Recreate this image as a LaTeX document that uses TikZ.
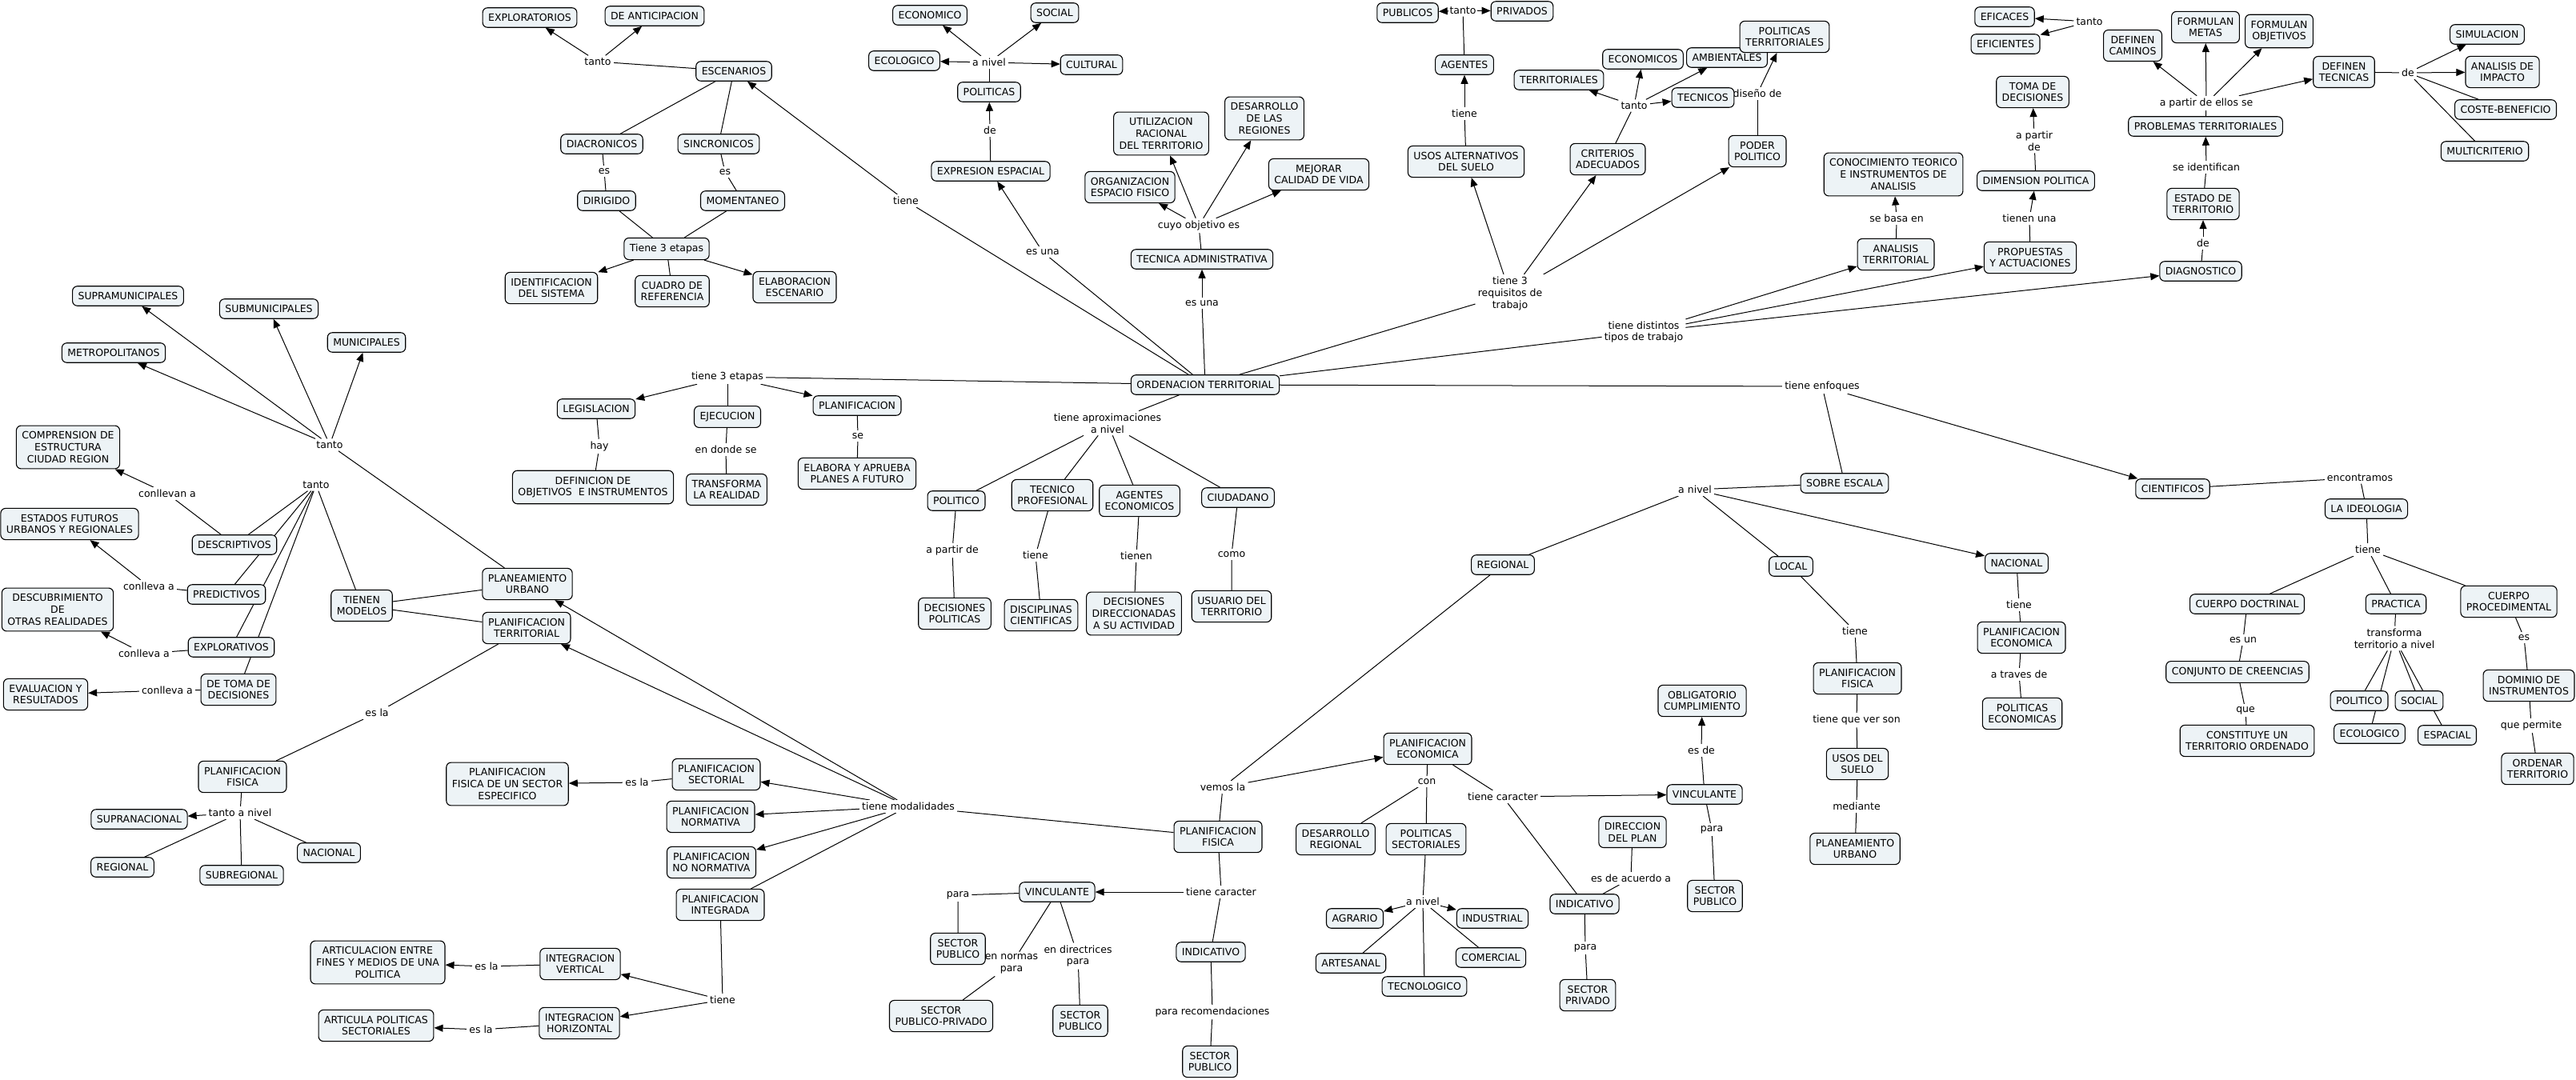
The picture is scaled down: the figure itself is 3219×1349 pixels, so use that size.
\documentclass[tikz,border=0pt]{standalone}
\usepackage{fontspec}
\setmainfont{DejaVu Sans}
\usetikzlibrary{arrows.meta}
\definecolor{boxfill}{HTML}{EDF3F6}
\pgfdeclarelayer{bg}
\pgfsetlayers{bg,main}
\tikzset{
  box/.style={draw=black, line width=1.1pt, rounded corners=6pt, fill=boxfill,
    inner xsep=7pt, inner ysep=7.5pt, align=center, font=\fontsize{12.5}{14.7}\selectfont},
  lab/.style={fill=white, inner xsep=3pt, inner ysep=3pt, align=center, font=\fontsize{12.5}{14.7}\selectfont},
  ln/.style={line width=1pt, draw=black},
  arr/.style={ln, -{Triangle[length=11pt,width=9pt]}},
}
\newcommand\mkbox[3]{\node[box] (#1) at (#2) {#3};}
\newcommand\mklab[3]{\node[lab] (#1) at (#2) {#3};}
\begin{document}
\begin{tikzpicture}[x=1pt,y=-1pt]
\useasboundingbox (0,0) rectangle (3219,1349);
\begin{pgfonlayer}{bg}
\fill[white] (0,0) rectangle (3219,1349);
\end{pgfonlayer}
% ---------- linking phrases ----------
\mklab{lTantoA}{747,77}{tanto}
\mklab{lEsA}{755,214}{es}
\mklab{lEsB}{906,215}{es}
\mklab{lTieneA}{1132,251}{tiene}
\mklab{lAnivelA}{1236,78}{a nivel}
\mklab{lDeA}{1237,163}{de}
\mklab{lEsUnaA}{1303,315}{es una}
\mklab{lCuyo}{1498,282}{cuyo objetivo es}
\mklab{lEsUnaB}{1502,379}{es una}
\node[lab,inner xsep=1pt] (lTantoB) at (1828,13) {tanto};
\mklab{lTieneB}{1830,142}{tiene}
\mklab{lTantoC}{2042,132}{tanto}
\node[lab,inner xsep=1pt] (lDiseno) at (2196,117) {diseño de};
\mklab{lReq}{1887,367}{tiene 3\\requisitos de\\trabajo}
\mklab{lDist}{2054,415}{tiene distintos\\tipos de trabajo}
\mklab{lBasa}{2370,273}{se basa en}
\mklab{lTantoD}{2611,27}{tanto}
\mklab{lApartir}{2542,176}{a partir\\de}
\mklab{lTienenUna}{2536,273}{tienen una}
\mklab{lAPartirEllos}{2757,129}{a partir de ellos se}
\mklab{lSeIdent}{2757,209}{se identifican}
\mklab{lDeB}{2753,304}{de}
\mklab{lDeC}{3009,91}{de}
\mklab{lTantoE}{412,556}{tanto}
\mklab{lTantoF}{395,606}{tanto}
\mklab{lConllevan}{209,617}{conllevan a}
\mklab{lConlA}{186,733}{conlleva a}
\mklab{lConlB}{180,817}{conlleva a}
\mklab{lConlC}{209,863}{conlleva a}
\mklab{lEsLaA}{471,891}{es la}
\mklab{lHay}{749,558}{hay}
\mklab{lTtres}{909,471}{tiene 3 etapas}
\mklab{lDonde}{907,562}{en donde se}
\mklab{lSe}{1072,545}{se}
\mklab{lAprox}{1384,529}{tiene aproximaciones\\a nivel}
\mklab{lApd}{1190,688}{a partir de}
\mklab{lTieneC}{1294,694}{tiene}
\mklab{lTienen}{1420,695}{tienen}
\mklab{lComo}{1539,693}{como}
\mklab{lEnfoq}{2277,483}{tiene enfoques}
\mklab{lAnivelB}{2118,612}{a nivel}
\mklab{lTieneD}{2318,789}{tiene}
\mklab{lEncon}{2949,597}{encontramos}
\mklab{lTieneE}{2959,687}{tiene}
\mklab{lTieneF}{2523,756}{tiene}
\mklab{lTraves}{2523,843}{a traves de}
\mklab{lEsUn}{2803,800}{es un}
\mklab{lTransf}{2992,798}{transforma\\territorio a nivel}
\mklab{lEsC}{3154,797}{es}
\mklab{lQue}{2806,888}{que}
\mklab{lPermite}{3163,907}{que permite}
\mklab{lTantoNivel}{300,1016}{tanto a nivel}
\mklab{lEsLaB}{796,978}{es la}
\mklab{lModal}{1135,1008}{tiene modalidades}
\mklab{lTieneG}{903,1250}{tiene}
\mklab{lEsLaC}{608,1208}{es la}
\mklab{lEsLaD}{601,1287}{es la}
\mklab{lVemos}{1528,984}{vemos la}
\mklab{lTcarA}{1526,1115}{tiene caracter}
\mklab{lParaA}{1197,1119}{para}
\node[lab,inner xsep=1pt] (lNormas) at (1264,1205) {en normas\\para};
\mklab{lDirec}{1347,1195}{en directrices\\para}
\mklab{lRecom}{1515,1265}{para recomendaciones}
\mklab{lCon}{1783,977}{con}
\mklab{lTcarB}{1878,996}{tiene caracter}
\mklab{lEsDe}{2126,938}{es de}
\mklab{lParaB}{2139,1037}{para}
\mklab{lAcuerdo}{2038,1098}{es de acuerdo a}
\mklab{lParaC}{1981,1185}{para}
\node[lab,inner xsep=1pt] (lAnivelC) at (1778,1127) {a nivel};
\mklab{lTqv}{2320,900}{tiene que ver son}
\mklab{lMediante}{2320,1008}{mediante}
% ---------- concepts ----------
\mkbox{nExpl}{662,22}{EXPLORATORIOS}
\mkbox{nDeAnt}{818,20}{DE ANTICIPACION}
\mkbox{nEsc}{917,89}{ESCENARIOS}
\mkbox{nDiac}{752,180}{DIACRONICOS}
\mkbox{nDir}{758,251}{DIRIGIDO}
\mkbox{nSinc}{898,180}{SINCRONICOS}
\mkbox{nMom}{928,251}{MOMENTANEO}
\mkbox{nTtres}{833,311}{Tiene 3 etapas}
\mkbox{nIdent}{689,360}{IDENTIFICACION\\DEL SISTEMA}
\mkbox{nCuadro}{840,364}{CUADRO DE\\REFERENCIA}
\mkbox{nElab}{993,359}{ELABORACION\\ESCENARIO}
\mkbox{nEcon}{1162,19}{ECONOMICO}
\mkbox{nSoc}{1318,16}{SOCIAL}
\mkbox{nEcol}{1130,76}{ECOLOGICO}
\mkbox{nCult}{1364,81}{CULTURAL}
\mkbox{nPol}{1236,115}{POLITICAS}
\mkbox{nExpr}{1238,214}{EXPRESION ESPACIAL}
\mkbox{nUtil}{1451,167}{UTILIZACION\\RACIONAL\\DEL TERRITORIO}
\mkbox{nDesReg}{1580,148}{DESARROLLO\\DE LAS\\REGIONES}
\mkbox{nOrg}{1412,234}{ORGANIZACION\\ESPACIO FISICO}
\mkbox{nMejor}{1648,218}{MEJORAR\\CALIDAD DE VIDA}
\mkbox{nTecAdm}{1502,324}{TECNICA ADMINISTRATIVA}
\mkbox{nPub}{1759,16}{PUBLICOS}
\mkbox{nPriv}{1902,14}{PRIVADOS}
\mkbox{nAgent}{1830,81}{AGENTES}
\mkbox{nUsos}{1832,202}{USOS ALTERNATIVOS\\DEL SUELO}
\mkbox{nTerr}{1948,100}{TERRITORIALES}
\mkbox{nEcons}{2053,74}{ECONOMICOS}
\mkbox{nAmb}{2158,72}{AMBIENTALES}
\mkbox{nPolTer}{2230,46}{POLITICAS\\TERRITORIALES}
\mkbox{nTecn}{2128,122}{TECNICOS}
\mkbox{nCrit}{2009,199}{CRITERIOS\\ADECUADOS}
\mkbox{nPoder}{2196,189}{PODER\\POLITICO}
\mkbox{nConoc}{2366,218}{CONOCIMIENTO TEORICO\\E INSTRUMENTOS DE\\ANALISIS}
\mkbox{nAnal}{2369,318}{ANALISIS\\TERRITORIAL}
\mkbox{nEfic}{2505,21}{EFICACES}
\mkbox{nEfie}{2506,55}{EFICIENTES}
\mkbox{nToma}{2540,115}{TOMA DE\\DECISIONES}
\mkbox{nDimPol}{2544,226}{DIMENSION POLITICA}
\mkbox{nProp}{2537,322}{PROPUESTAS\\Y ACTUACIONES}
\mkbox{nDefCam}{2665,57}{DEFINEN\\CAMINOS}
\mkbox{nFMetas}{2756,34}{FORMULAN\\METAS}
\mkbox{nFObj}{2848,39}{FORMULAN\\OBJETIVOS}
\mkbox{nProbl}{2756,158}{PROBLEMAS TERRITORIALES}
\mkbox{nEstado}{2753,255}{ESTADO DE\\TERRITORIO}
\mkbox{nDiag}{2750,339}{DIAGNOSTICO}
\mkbox{nDefTec}{2929,90}{DEFINEN\\TECNICAS}
\mkbox{nSimul}{3108,43}{SIMULACION}
\mkbox{nAnaImp}{3127,90}{ANALISIS DE\\IMPACTO}
\mkbox{nCoste}{3131,137}{COSTE-BENEFICIO}
\mkbox{nMulti}{3105,189}{MULTICRITERIO}
\mkbox{nSupra}{160,370}{SUPRAMUNICIPALES}
\mkbox{nSub}{336,386}{SUBMUNICIPALES}
\mkbox{nMuni}{458,428}{MUNICIPALES}
\mkbox{nMetro}{142,441}{METROPOLITANOS}
\mkbox{nCompr}{85,559}{COMPRENSION DE\\ESTRUCTURA\\CIUDAD REGION}
\mkbox{nEstFut}{87,655}{ESTADOS FUTUROS\\URBANOS Y REGIONALES}
\mkbox{nDescr}{293,681}{DESCRIPTIVOS}
\mkbox{nPred}{283,743}{PREDICTIVOS}
\mkbox{nDescub}{72,762}{DESCUBRIMIENTO\\DE\\OTRAS REALIDADES}
\mkbox{nExplv}{289,809}{EXPLORATIVOS}
\mkbox{nDeToma}{298,862}{DE TOMA DE\\DECISIONES}
\mkbox{nEval}{57,868}{EVALUACION Y\\RESULTADOS}
\mkbox{nTMod}{452,757}{TIENEN\\MODELOS}
\mkbox{nPlanUrb}{659,730}{PLANEAMIENTO\\URBANO}
\mkbox{nPlanTer}{658,785}{PLANIFICACION\\TERRITORIAL}
\mkbox{nLegis}{745,511}{LEGISLACION}
\mkbox{nDefObj}{741,609}{DEFINICION DE\\OBJETIVOS~ E INSTRUMENTOS}
\mkbox{nEjec}{909,521}{EJECUCION}
\mkbox{nTransf}{908,612}{TRANSFORMA\\LA REALIDAD}
\mkbox{nPlanif}{1071,507}{PLANIFICACION}
\mkbox{nElabora}{1071,592}{ELABORA Y APRUEBA\\PLANES A FUTURO}
\mkbox{nOT}{1506,481}{ORDENACION TERRITORIAL}
\mkbox{nPolitico}{1195,626}{POLITICO}
\mkbox{nTecProf}{1315,619}{TECNICO\\PROFESIONAL}
\mkbox{nAgEcon}{1424,626}{AGENTES\\ECONOMICOS}
\mkbox{nCiud}{1547,622}{CIUDADANO}
\mkbox{nDecPol}{1193,767}{DECISIONES\\POLITICAS}
\mkbox{nDisc}{1301,769}{DISCIPLINAS\\CIENTIFICAS}
\mkbox{nDecDir}{1417,767}{DECISIONES\\DIRECCIONADAS\\A SU ACTIVIDAD}
\mkbox{nUsuario}{1539,758}{USUARIO DEL\\TERRITORIO}
\mkbox{nSobre}{2305,604}{SOBRE ESCALA}
\mkbox{nRegional}{1878,706}{REGIONAL}
\mkbox{nLocal}{2238,708}{LOCAL}
\mkbox{nPFL}{2321,848}{PLANIFICACION\\FISICA}
\mkbox{nOblig}{2127,876}{OBLIGATORIO\\CUMPLIMIENTO}
\mkbox{nCient}{2715,611}{CIENTIFICOS}
\mkbox{nIdeol}{2957,636}{LA IDEOLOGIA}
\mkbox{nNac}{2520,704}{NACIONAL}
\mkbox{nPER}{2526,797}{PLANIFICACION\\ECONOMICA}
\mkbox{nPolEco}{2527,892}{POLITICAS\\ECONOMICAS}
\mkbox{nCDoc}{2808,755}{CUERPO DOCTRINAL}
\mkbox{nPract}{2994,755}{PRACTICA}
\mkbox{nCProc}{3135,752}{CUERPO\\PROCEDIMENTAL}
\mkbox{nConj}{2796,840}{CONJUNTO DE CREENCIAS}
\mkbox{nDominio}{3160,857}{DOMINIO DE\\INSTRUMENTOS}
\mkbox{nPolitB}{2948,876}{POLITICO}
\mkbox{nSocialB}{3023,876}{SOCIAL}
\mkbox{nConstit}{2808,926}{CONSTITUYE UN\\TERRITORIO ORDENADO}
\mkbox{nEcolB}{2961,917}{ECOLOGICO}
\mkbox{nEspac}{3058,919}{ESPACIAL}
\mkbox{nOrdenar}{3171,961}{ORDENAR\\TERRITORIO}
\mkbox{nPFIzq}{303,971}{PLANIFICACION\\FISICA}
\mkbox{nSupran}{174,1024}{SUPRANACIONAL}
\mkbox{nRegB}{153,1084}{REGIONAL}
\mkbox{nSubreg}{302,1094}{SUBREGIONAL}
\mkbox{nNacB}{411,1066}{NACIONAL}
\mkbox{nPFSector}{634,980}{PLANIFICACION\\FISICA DE UN SECTOR\\ESPECIFICO}
\mkbox{nPSect}{895,968}{PLANIFICACION\\SECTORIAL}
\mkbox{nPNorm}{888,1021}{PLANIFICACION\\NORMATIVA}
\mkbox{nPNoNorm}{889,1078}{PLANIFICACION\\NO NORMATIVA}
\mkbox{nPInteg}{900,1131}{PLANIFICACION\\INTEGRADA}
\mkbox{nArtic}{472,1203}{ARTICULACION ENTRE\\FINES Y MEDIOS DE UNA\\POLITICA}
\mkbox{nIntV}{725,1205}{INTEGRACION\\VERTICAL}
\mkbox{nArtPol}{470,1282}{ARTICULA POLITICAS\\SECTORIALES}
\mkbox{nIntH}{724,1279}{INTEGRACION\\HORIZONTAL}
\mkbox{nPFC}{1522,1046}{PLANIFICACION\\FISICA}
\mkbox{nVincA}{1321,1115}{VINCULANTE}
\mkbox{nSPA}{1197,1186}{SECTOR\\PUBLICO}
\mkbox{nSPP}{1176,1270}{SECTOR\\PUBLICO-PRIVADO}
\mkbox{nSPB}{1350,1276}{SECTOR\\PUBLICO}
\mkbox{nIndA}{1513,1190}{INDICATIVO}
\mkbox{nSPC}{1512,1327}{SECTOR\\PUBLICO}
\mkbox{nPEC}{1784,936}{PLANIFICACION\\ECONOMICA}
\mkbox{nVincB}{2130,993}{VINCULANTE}
\mkbox{nSPD}{2143,1120}{SECTOR\\PUBLICO}
\mkbox{nDesRegB}{1669,1049}{DESARROLLO\\REGIONAL}
\mkbox{nPolSec}{1782,1049}{POLITICAS\\SECTORIALES}
\mkbox{nDirec}{2040,1040}{DIRECCION\\DEL PLAN}
\mkbox{nIndB}{1980,1130}{INDICATIVO}
\mkbox{nSPriv}{1984,1244}{SECTOR\\PRIVADO}
\mkbox{nAgrario}{1693,1148}{AGRARIO}
\mkbox{nIndus}{1865,1148}{INDUSTRIAL}
\mkbox{nArtes}{1688,1204}{ARTESANAL}
\mkbox{nComerc}{1863,1197}{COMERCIAL}
\mkbox{nTecnol}{1780,1233}{TECNOLOGICO}
\mkbox{nUsoSuelo}{2321,955}{USOS DEL\\SUELO}
\mkbox{nPlanUrbB}{2318,1061}{PLANEAMIENTO\\URBANO}
% ---------- connectors ----------
\begin{pgfonlayer}{bg}
% ordenacion territorial
\draw[ln] (nOT) -- (lTieneA); \draw[arr] (lTieneA) -- (nEsc);
\draw[ln] (nOT) -- (lEsUnaA); \draw[arr] (lEsUnaA) -- (nExpr);
\draw[ln] (nOT) -- (lEsUnaB); \draw[arr] (lEsUnaB) -- (nTecAdm);
\draw[ln] (nOT) -- (lReq);
\foreach \t in {nUsos,nCrit,nPoder} \draw[arr] (lReq) -- (\t);
\draw[ln] (nOT) -- (lDist);
\foreach \t in {nAnal,nProp,nDiag} \draw[arr] (lDist) -- (\t);
\draw[ln] (nOT) -- (lEnfoq); \draw[ln] (lEnfoq) -- (nSobre); \draw[arr] (lEnfoq) -- (nCient);
\draw[ln] (nOT) -- (lAprox);
\foreach \t in {nPolitico,nTecProf,nAgEcon,nCiud} \draw[ln] (lAprox) -- (\t);
\draw[ln] (nOT) -- (lTtres);
\draw[arr] (lTtres) -- (nLegis); \draw[ln] (lTtres) -- (nEjec); \draw[arr] (lTtres) -- (nPlanif);
% escenarios
\draw[ln] (nEsc) -- (lTantoA);
\foreach \t in {nExpl,nDeAnt} \draw[arr] (lTantoA) -- (\t);
\draw[ln] (nEsc) -- (nDiac); \draw[ln] (nEsc) -- (nSinc);
\draw[ln] (nDiac) -- (lEsA) -- (nDir);
\draw[ln] (nSinc) -- (lEsB) -- (nMom);
\draw[ln] (nDir) -- (nTtres); \draw[ln] (nMom) -- (nTtres);
\draw[arr] (nTtres) -- (nIdent); \draw[ln] (nTtres) -- (nCuadro); \draw[arr] (nTtres) -- (nElab);
% politicas
\draw[ln] (nExpr) -- (lDeA); \draw[arr] (lDeA) -- (nPol);
\draw[ln] (nPol) -- (lAnivelA);
\foreach \t in {nEcon,nSoc,nEcol,nCult} \draw[arr] (lAnivelA) -- (\t);
% tecnica administrativa
\draw[ln] (nTecAdm) -- (lCuyo);
\foreach \t in {nOrg,nUtil,nDesReg,nMejor} \draw[arr] (lCuyo) -- (\t);
% requisitos
\draw[ln] (nUsos) -- (lTieneB); \draw[arr] (lTieneB) -- (nAgent);
\draw[ln] (nAgent) -- (lTantoB);
\foreach \t in {nPub,nPriv} \draw[arr] (lTantoB) -- (\t);
\draw[ln] (nCrit) -- (lTantoC);
\foreach \t in {nTerr,nEcons,nAmb,nTecn} \draw[arr] (lTantoC) -- (\t);
\draw[ln] (nPoder) -- (lDiseno); \draw[arr] (lDiseno) -- (nPolTer);
% tipos de trabajo
\draw[ln] (nAnal) -- (lBasa); \draw[arr] (lBasa) -- (nConoc);
\draw[ln] (nProp) -- (lTienenUna); \draw[arr] (lTienenUna) -- (nDimPol);
\draw[ln] (nDimPol) -- (lApartir); \draw[arr] (lApartir) -- (nToma);
\draw[ln] (nDiag) -- (lDeB); \draw[arr] (lDeB) -- (nEstado);
\draw[ln] (nEstado) -- (lSeIdent); \draw[arr] (lSeIdent) -- (nProbl);
\draw[ln] (nProbl) -- (lAPartirEllos);
\foreach \t in {nDefCam,nFMetas,nFObj,nDefTec} \draw[arr] (lAPartirEllos) -- (\t);
\draw[ln] (nDefTec) -- (lDeC);
\foreach \t in {nSimul,nAnaImp} \draw[arr] (lDeC) -- (\t);
\foreach \t in {nCoste,nMulti} \draw[ln] (lDeC) -- (\t);
\foreach \t in {nEfic,nEfie} \draw[arr] (lTantoD) -- (\t);
% planeamiento / modelos
\draw[ln] (nPlanUrb) -- (lTantoE);
\foreach \t in {nSupra,nSub,nMuni,nMetro} \draw[arr] (lTantoE) -- (\t);
\draw[ln] (nTMod) -- (lTantoF);
\foreach \t in {nDescr,nPred,nExplv,nDeToma} \draw[ln] (lTantoF) -- (\t);
\draw[ln] (nDescr) -- (lConllevan); \draw[arr] (lConllevan) -- (nCompr);
\draw[ln] (nPred) -- (lConlA); \draw[arr] (lConlA) -- (nEstFut);
\draw[ln] (nExplv) -- (lConlB); \draw[arr] (lConlB) -- (nDescub);
\draw[ln] (nDeToma) -- (lConlC); \draw[arr] (lConlC) -- (nEval);
\draw[ln] (nTMod) -- (nPlanUrb); \draw[ln] (nTMod) -- (nPlanTer);
\draw[ln] (nPlanTer) -- (lEsLaA) -- (nPFIzq);
% etapas
\draw[ln] (nLegis) -- (lHay) -- (nDefObj);
\draw[ln] (nEjec) -- (lDonde) -- (nTransf);
\draw[ln] (nPlanif) -- (lSe) -- (nElabora);
% aproximaciones
\draw[ln] (nPolitico) -- (lApd) -- (nDecPol);
\draw[ln] (nTecProf) -- (lTieneC) -- (nDisc);
\draw[ln] (nAgEcon) -- (lTienen) -- (nDecDir);
\draw[ln] (nCiud) -- (lComo) -- (nUsuario);
% escala
\draw[ln] (nSobre) -- (lAnivelB);
\draw[ln] (lAnivelB) -- (nRegional); \draw[ln] (lAnivelB) -- (nLocal); \draw[arr] (lAnivelB) -- (nNac);
\draw[ln] (nLocal) -- (lTieneD) -- (nPFL) -- (lTqv) -- (nUsoSuelo) -- (lMediante) -- (nPlanUrbB);
\draw[ln] (nNac) -- (lTieneF) -- (nPER) -- (lTraves) -- (nPolEco);
% cientificos
\draw[ln] (nCient) -- (lEncon) -- (nIdeol) -- (lTieneE);
\foreach \t in {nCDoc,nPract,nCProc} \draw[ln] (lTieneE) -- (\t);
\draw[ln] (nCDoc) -- (lEsUn) -- (nConj) -- (lQue) -- (nConstit);
\draw[ln] (nPract) -- (lTransf);
\foreach \t in {nPolitB,nSocialB,nEcolB,nEspac} \draw[ln] (lTransf) -- (\t);
\draw[ln] (nCProc) -- (lEsC) -- (nDominio) -- (lPermite) -- (nOrdenar);
% planificacion fisica (izq)
\draw[ln] (nPFIzq) -- (lTantoNivel); \draw[arr] (lTantoNivel) -- (nSupran);
\foreach \t in {nRegB,nSubreg,nNacB} \draw[ln] (lTantoNivel) -- (\t);
% modalidades
\draw[ln] (nPSect) -- (lEsLaB); \draw[arr] (lEsLaB) -- (nPFSector);
\draw[ln] (nPFC) -- (lModal);
\foreach \t in {nPlanUrb,nPlanTer,nPSect,nPNorm,nPNoNorm} \draw[arr] (lModal) -- (\t);
\draw[ln] (lModal) -- (nPInteg);
\draw[ln] (nPInteg) -- (lTieneG);
\foreach \t in {nIntV,nIntH} \draw[arr] (lTieneG) -- (\t);
\draw[ln] (nIntV) -- (lEsLaC); \draw[arr] (lEsLaC) -- (nArtic);
\draw[ln] (nIntH) -- (lEsLaD); \draw[arr] (lEsLaD) -- (nArtPol);
% regional
\draw[ln] (nRegional) -- (lVemos); \draw[ln] (lVemos) -- (nPFC); \draw[arr] (lVemos) -- (nPEC);
\draw[ln] (nPFC) -- (lTcarA); \draw[arr] (lTcarA) -- (nVincA); \draw[ln] (lTcarA) -- (nIndA);
\draw[ln] (nVincA) -- (lParaA) -- (nSPA);
\draw[ln] (nVincA) -- (lNormas) -- (nSPP);
\draw[ln] (nVincA) -- (lDirec) -- (nSPB);
\draw[ln] (nIndA) -- (lRecom) -- (nSPC);
\draw[ln] (nPEC) -- (lCon); \draw[ln] (lCon) -- (nDesRegB); \draw[ln] (lCon) -- (nPolSec);
\draw[ln] (nPEC) -- (lTcarB); \draw[arr] (lTcarB) -- (nVincB); \draw[ln] (lTcarB) -- (nIndB);
\draw[ln] (nVincB) -- (lEsDe); \draw[arr] (lEsDe) -- (nOblig);
\draw[ln] (nVincB) -- (lParaB) -- (nSPD);
\draw[ln] (nIndB) -- (lAcuerdo) -- (nDirec);
\draw[ln] (nIndB) -- (lParaC) -- (nSPriv);
\draw[ln] (nPolSec) -- (lAnivelC);
\foreach \t in {nAgrario,nIndus} \draw[arr] (lAnivelC) -- (\t);
\foreach \t in {nArtes,nComerc,nTecnol} \draw[ln] (lAnivelC) -- (\t);
\end{pgfonlayer}
\end{tikzpicture}
\end{document}
